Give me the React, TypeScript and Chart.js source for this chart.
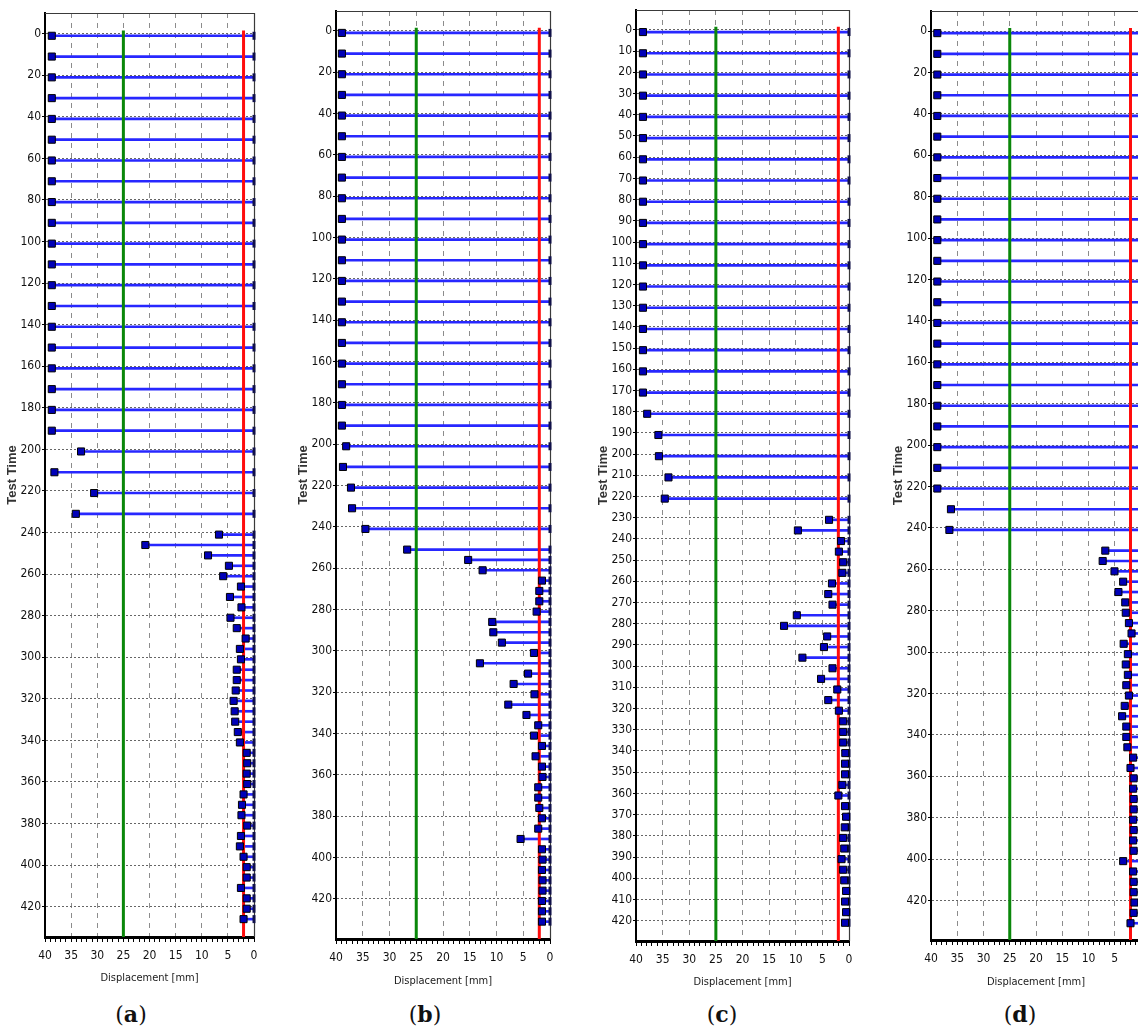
import React, { useEffect, useRef } from 'react';
import { Chart, registerables } from 'chart.js';

Chart.register(...registerables);

// ---------------- data ----------------
const timesA = [1, 11, 21, 31, 41, 51, 61, 71, 81, 91, 101, 111, 121, 131, 141, 151, 161, 171, 181, 191, 201, 211, 221, 231,
  241, 246, 251, 256, 261, 266, 271, 276, 281, 286, 291, 296, 301, 306, 311, 316, 321, 326, 331, 336, 341, 346, 351, 356,
  361, 366, 371, 376, 381, 386, 391, 396, 401, 406, 411, 416, 421, 426];
const dispA = [38.7, 38.7, 38.7, 38.7, 38.7, 38.7, 38.7, 38.7, 38.7, 38.7, 38.7, 38.7, 38.7, 38.7, 38.7, 38.7, 38.7, 38.7, 38.7, 38.7,
  33.1, 38.2, 30.6, 34.1,
  6.7, 20.8, 8.8, 4.8, 5.9, 2.5, 4.6, 2.4, 4.5, 3.3, 1.6, 2.7, 2.5, 3.3, 3.3, 3.5, 3.9, 3.7, 3.6, 3.1, 2.7, 1.4, 1.3, 1.4,
  1.3, 2.0, 2.3, 2.4, 1.3, 2.5, 2.7, 2.0, 1.4, 1.4, 2.5, 1.4, 1.4, 2.0];

const timesB = [1, 11, 21, 31, 41, 51, 61, 71, 81, 91, 101, 111, 121, 131, 141, 151, 161, 171, 181, 191, 201, 211, 221, 231, 241, 251,
  256, 261, 266, 271, 276, 281, 286, 291, 296, 301, 306, 311, 316, 321, 326, 331, 336, 341, 346, 351, 356, 361, 366, 371,
  376, 381, 386, 391, 396, 401, 406, 411, 416, 421, 426, 431];
const dispB = [38.9, 38.9, 38.9, 38.9, 38.9, 38.9, 38.9, 38.9, 38.9, 38.9, 38.9, 38.9, 38.9, 38.9, 38.9, 38.9, 38.9, 38.9, 38.9, 38.9,
  38.1, 38.7, 37.2, 37.0, 34.5, 26.7,
  15.3, 12.6, 1.5, 2.0, 2.0, 2.5, 10.8, 10.6, 9.0, 3.0, 13.1, 4.1, 6.8, 2.9, 7.8, 4.4, 2.2, 3.0, 1.5, 2.7, 1.5, 1.4, 2.2, 2.2,
  2.0, 1.5, 2.2, 5.5, 1.5, 1.4, 1.5, 1.4, 1.4, 1.5, 1.5, 1.5];

const timesC = [1, 11, 21, 31, 41, 51, 61, 71, 81, 91, 101, 111, 121, 131, 141, 151, 161, 171, 181, 191, 201, 211, 221,
  231, 236, 241, 246, 251, 256, 261, 266, 271, 276, 281, 286, 291, 296, 301, 306, 311, 316, 321, 326, 331, 336, 341, 346,
  351, 356, 361, 366, 371, 376, 381, 386, 391, 396, 401, 406, 411, 416, 421];
const dispC = [38.7, 38.7, 38.7, 38.7, 38.7, 38.7, 38.7, 38.7, 38.7, 38.7, 38.7, 38.7, 38.7, 38.7, 38.7, 38.7, 38.7, 38.7,
  37.9, 35.8, 35.7, 33.9, 34.6,
  3.75, 9.6, 1.5, 1.9, 1.1, 1.25, 3.2, 3.9, 3.1, 9.8, 12.2, 4.1, 4.7, 8.75, 3.1, 5.25, 2.2, 3.9, 1.9, 1.1, 1.1, 1.1, 0.7, 0.75,
  0.75, 1.25, 2.0, 0.75, 0.55, 0.8, 1.1, 0.9, 1.4, 1.1, 0.9, 0.55, 0.75, 0.55, 0.75];

const timesD = [1, 11, 21, 31, 41, 51, 61, 71, 81, 91, 101, 111, 121, 131, 141, 151, 161, 171, 181, 191, 201, 211, 221, 231, 241, 251,
  256, 261, 266, 271, 276, 281, 286, 291, 296, 301, 306, 311, 316, 321, 326, 331, 336, 341, 346, 351, 356, 361, 366, 371,
  376, 381, 386, 391, 396, 401, 406, 411, 416, 421, 426, 431];
const dispD = [38.8, 38.8, 38.8, 38.8, 38.8, 38.8, 38.8, 38.8, 38.8, 38.8, 38.8, 38.8, 38.8, 38.8, 38.8, 38.8, 38.8, 38.8, 38.8, 38.8,
  38.8, 38.8, 38.8, 36.2, 36.5, 6.8,
  7.3, 5.05, 3.4, 4.3, 3.0, 2.9, 2.3, 1.8, 3.3, 2.5, 2.9, 2.5, 2.8, 2.3, 3.1, 3.6, 2.8, 2.8, 2.6, 1.5, 2.0, 1.4, 1.5, 1.4,
  1.4, 1.5, 1.4, 1.5, 1.4, 3.4, 1.5, 1.4, 1.4, 1.25, 1.4, 2.0];

const xTickValues = [0, 1, 2, 3, 4, 5, 6, 7, 8, 9, 10, 11, 12, 13, 14, 15, 16, 17, 18, 19, 20,
  21, 22, 23, 24, 25, 26, 27, 28, 29, 30, 31, 32, 33, 34, 35, 36, 37, 38, 39, 40];
const yTicks20 = [0, 20, 40, 60, 80, 100, 120, 140, 160, 180, 200, 220, 240, 260, 280, 300, 320, 340, 360, 380, 400, 420];
const yTicks10 = [0, 10, 20, 30, 40, 50, 60, 70, 80, 90, 100, 110, 120, 130, 140, 150, 160, 170, 180, 190, 200, 210,
  220, 230, 240, 250, 260, 270, 280, 290, 300, 310, 320, 330, 340, 350, 360, 370, 380, 390, 400, 410, 420];

const greenLimit = 25; // mm
const redLimit = 2; // mm

// ---------------- layout ----------------
const CH = 1000;
const NARROW = '"Liberation Sans Narrow", "DejaVu Sans Condensed", "Arial Narrow", sans-serif';

type PanelCfg = {
  label: string;
  times: number[];
  disp: number[];
  yTicks: number[];
  L: number; R: number; T: number; B: number;
  yMin: number; yMax: number;
  titlePad: number;
  capX: number;
};

const panels: PanelCfg[] = [
  { label: 'a', times: timesA, disp: dispA, yTicks: yTicks20, L: 45, R: 254, T: 13, B: 937, yMin: -9.96, yMax: 434.6, titlePad: 15, capX: 131 },
  { label: 'b', times: timesB, disp: dispB, yTicks: yTicks20, L: 336, R: 550, T: 11, B: 939, yMin: -9.6, yMax: 439.4, titlePad: 12.5, capX: 425 },
  { label: 'c', times: timesC, disp: dispC, yTicks: yTicks10, L: 636, R: 849, T: 10, B: 941, yMin: -9.4, yMax: 429.6, titlePad: 11, capX: 722 },
  { label: 'd', times: timesD, disp: dispD, yTicks: yTicks20, L: 931, R: 1141, T: 11, B: 940, yMin: -9.7, yMax: 439.1, titlePad: 11, capX: 1020 },
];

const framePlugin = {
  id: 'frame',
  beforeDatasetsDraw(chart: any) {
    const { ctx, chartArea: a } = chart;
    ctx.save();
    ctx.strokeStyle = '#3a3a3a';
    ctx.lineWidth = 1.2;
    ctx.beginPath();
    ctx.moveTo(a.left, a.top + 0.5);
    ctx.lineTo(a.right + 0.5, a.top + 0.5);
    ctx.lineTo(a.right + 0.5, a.bottom);
    ctx.stroke();
    ctx.restore();
  },
};

function Panel({ cfg }: { cfg: PanelCfg }) {
  const ref = useRef<HTMLCanvasElement>(null);
  const cx = cfg.L - 45;
  const cw = cfg.R - cx + 30;

  useEffect(() => {
    if (!ref.current) return;
    const bars = cfg.times.map((t, i) => ({ x: [cfg.disp[i], 0], y: t }));
    const heads = cfg.times.map((t, i) => ({ x: cfg.disp[i], y: t }));
    const ends = cfg.times.map((t) => ({ x: 0, y: t }));
    const chart = new Chart(ref.current, {
      type: 'bar',
      data: {
        datasets: [
          {
            type: 'scatter',
            data: heads,
            pointStyle: 'rect',
            pointRadius: 5,
            pointBackgroundColor: '#0000b8',
            pointBorderColor: '#000000',
            pointBorderWidth: 1,
            order: 0,
            clip: false,
          } as any,
          {
            type: 'scatter',
            data: ends,
            pointStyle: 'line',
            rotation: 90,
            pointRadius: 4,
            pointBorderColor: '#10104a',
            pointBorderWidth: 3,
            order: 0,
            clip: false,
          } as any,
          {
            type: 'line',
            data: [{ x: greenLimit, y: -1.5 }, { x: greenLimit, y: cfg.yMax }],
            borderColor: '#0a870a',
            borderWidth: 3,
            pointRadius: 0,
            order: 1,
          } as any,
          {
            type: 'line',
            data: [{ x: redLimit, y: -1.5 }, { x: redLimit, y: cfg.yMax }],
            borderColor: '#ff0d0d',
            borderWidth: 3,
            pointRadius: 0,
            order: 1,
          } as any,
          {
            type: 'bar',
            indexAxis: 'y',
            data: bars,
            barThickness: 2,
            backgroundColor: '#2727ff',
            borderWidth: 0,
            order: 2,
          } as any,
        ],
      },
      options: {
        responsive: false,
        animation: false,
        events: [],
        layout: { padding: { left: 0, top: cfg.T, right: cx + cw - cfg.R, bottom: 0 } },
        plugins: { legend: { display: false }, tooltip: { enabled: false } },
        scales: {
          x: {
            type: 'linear',
            position: 'bottom',
            reverse: true,
            offset: false,
            min: 0,
            max: 40,
            afterFit: (s: any) => { s.height = CH - cfg.B; },
            afterBuildTicks: (s: any) => { s.ticks = xTickValues.map((v) => ({ value: v })); },
            ticks: {
              autoSkip: false,
              maxRotation: 0,
              padding: 7,
              color: '#111',
              font: { family: NARROW, size: 12 },
              callback: (v: any) => (Number(v) % 5 === 0 ? String(v) : ''),
            },
            grid: {
              offset: false,
              color: (c: any) => {
                const v = c.tick ? c.tick.value : 0;
                return v % 5 === 0 && v !== 0 && v !== 40 ? '#8c8c8c' : 'rgba(0,0,0,0)';
              },
              lineWidth: 1,
              tickColor: '#000',
              tickLength: 5,
            },
            border: { display: true, color: '#000', width: 3, dash: [5, 5] },
            title: {
              display: true,
              text: 'Displacement [mm]',
              color: '#1a1a1a',
              font: { family: NARROW, size: 11 },
              padding: { top: 0, bottom: cfg.titlePad },
            },
          },
          y: {
            type: 'linear',
            position: 'left',
            reverse: true,
            offset: false,
            min: cfg.yMin,
            max: cfg.yMax,
            afterFit: (s: any) => { s.width = 45; },
            afterBuildTicks: (s: any) => { s.ticks = cfg.yTicks.map((v) => ({ value: v })); },
            ticks: {
              autoSkip: false,
              padding: 1,
              color: '#111',
              font: { family: NARROW, size: 12, lineHeight: 1 },
            },
            grid: {
              offset: false,
              color: '#666',
              lineWidth: 1,
              tickColor: '#000',
              tickLength: 3,
            },
            border: { display: true, color: '#000', width: 2, dash: [2, 2] },
            title: {
              display: true,
              text: 'Test Time',
              color: '#333',
              font: { family: '"Liberation Sans", Arial, sans-serif', size: 13, weight: 'bold' },
              padding: { top: 5, bottom: 0 },
            },
          },
        },
      },
      plugins: [framePlugin],
    } as any);
    return () => chart.destroy();
  }, [cfg]);

  return (
    <canvas
      ref={ref}
      width={cw}
      height={CH}
      style={{ position: 'absolute', left: cx, top: 0, width: cw, height: CH }}
    />
  );
}

export default function App() {
  return (
    <div style={{ position: 'absolute', left: 0, top: 0, width: 1138, height: 1034, overflow: 'hidden', background: '#fff' }}>
      {panels.map((p) => (
        <Panel key={p.label} cfg={p} />
      ))}
      {panels.map((p) => (
        <div
          key={'cap' + p.label}
          style={{
            position: 'absolute',
            left: p.capX - 40,
            width: 80,
            top: 1000,
            textAlign: 'center',
            fontFamily: '"DejaVu Serif", serif',
            fontSize: 22,
            lineHeight: '28px',
            color: '#111',
          }}
        >
          (<b>{p.label}</b>)
        </div>
      ))}
    </div>
  );
}
